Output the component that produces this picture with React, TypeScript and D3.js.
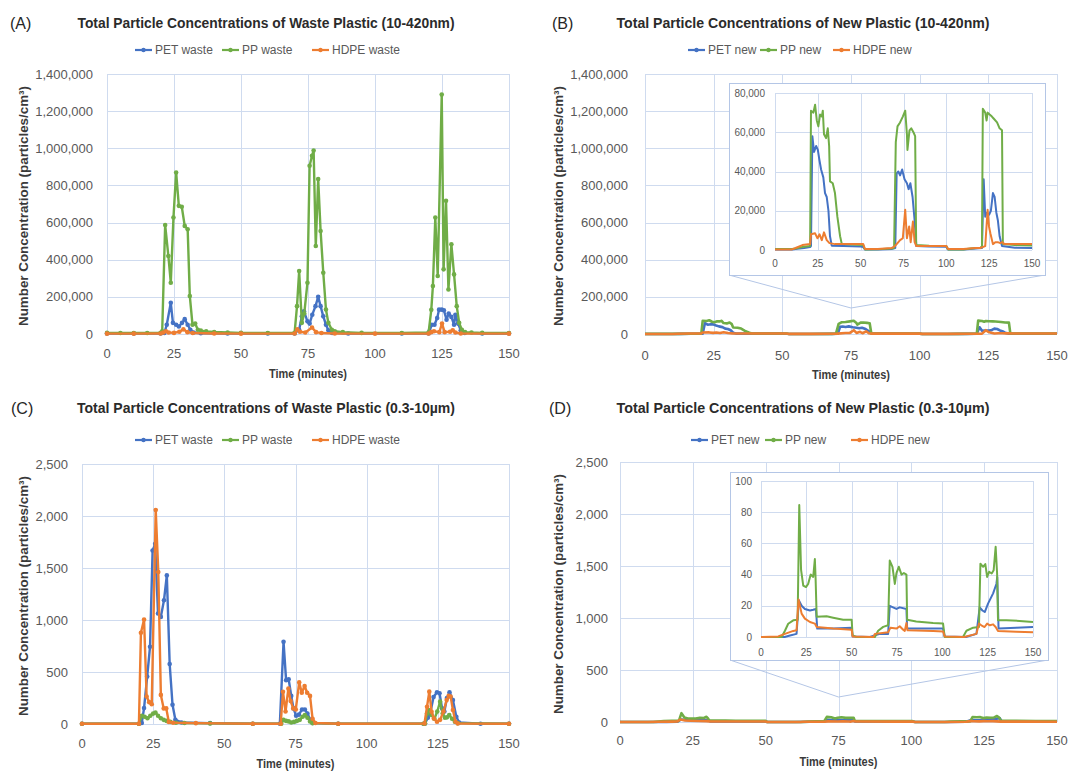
import { useEffect, useRef } from 'react';
import * as d3 from 'd3';

type Pt = [number, number];

const FONT = "'Liberation Sans', Arial, sans-serif";
const GRID = '#cfdbef';
const BOX = '#b4c6e6';
const TEXT = '#595959';
const colors = ['#4472C4', '#70AD47', '#ED7D31'];

const timeTicks = [0, 25, 50, 75, 100, 125, 150];
const nanoTicks = [0, 200000, 400000, 600000, 800000, 1000000, 1200000, 1400000];
const microTicks = [0, 500, 1000, 1500, 2000, 2500];
const nanoInsetTicks = [0, 20000, 40000, 60000, 80000];
const microInsetTicks = [0, 20, 40, 60, 80, 100];

const wasteNames = ['PET waste', 'PP waste', 'HDPE waste'];
const newNames = ['PET new', 'PP new', 'HDPE new'];

// (A) waste plastic, 10-420nm
const petWasteNano: Pt[] = [
  [0, 3000], [10, 3000], [20, 3000], [21.4, 5000], [22.3, 50000], [23.8, 168000], [24.6, 60000], [25.8, 50000],
  [26.8, 40000], [28, 60000], [29, 80000], [30.1, 50000], [31.1, 23000], [32.3, 8000], [35, 4000], [45, 3000],
  [60, 3000], [70, 3000], [71.7, 23000], [72.7, 95000], [73.5, 122000], [74.8, 68000], [75.6, 56000], [76.6, 104000],
  [77.8, 150000], [78.8, 200000], [79.7, 150000], [80.7, 95000], [81.7, 50000], [82.6, 20000], [84, 6000], [90, 3000],
  [110, 3000], [120, 3000], [120.3, 14000], [121.2, 50000], [122.2, 50000], [123.2, 86000], [123.9, 131000],
  [124.9, 131000], [125.7, 128000], [126.7, 77000], [127.5, 110000], [128.5, 92000], [129.5, 50000], [130, 104000],
  [131, 56000], [132, 20000], [133.5, 6000], [140, 3000], [150, 3000],
];
const ppWasteNano: Pt[] = [
  [0, 6000], [5, 5500], [10, 5000], [15, 5000], [20, 6000], [20.6, 15000], [21.7, 587000], [22.9, 420000],
  [23.8, 276000], [24.8, 627000], [25.8, 870000], [26.8, 690000], [27.9, 685000], [29, 582000], [30.1, 564000],
  [30.9, 204000], [31.9, 50000], [32.9, 56000], [33.9, 23000], [35, 18000], [37, 14000], [40, 11000], [45, 8000],
  [50, 6000], [60, 5000], [70, 6000], [70.9, 150000], [71.7, 339000], [72.7, 60000], [73.6, 110000], [74.8, 276000],
  [75.6, 906000], [76.5, 960000], [77.1, 988000], [77.9, 474000], [78.8, 834000], [79.7, 555000], [80.7, 330000],
  [81.7, 132000], [82.6, 60000], [83.9, 23000], [85, 15000], [88, 10000], [95, 6000], [110, 5000], [120, 8000],
  [121, 130000], [121.6, 258000], [122.5, 627000], [123.4, 312000], [124.9, 1289000], [125.6, 348000],
  [126.5, 717000], [127.4, 240000], [128.5, 483000], [129.5, 321000], [130.5, 150000], [131.4, 60000],
  [132.4, 23000], [133.6, 10000], [136, 8000], [140, 6000], [150, 5000],
];
const hdpeWasteNano: Pt[] = [
  [0, 2000], [10, 2000], [20, 2500], [21, 8000], [22, 15000], [23, 8000], [25, 6000], [27, 12000], [28.5, 25000],
  [30, 10000], [32, 5000], [40, 3000], [50, 2000], [70, 2500], [71, 25000], [72, 12000], [74, 8000], [76.5, 35000],
  [78, 10000], [80, 5000], [85, 3000], [100, 2000], [120, 2500], [121, 10000], [122, 15000], [124, 10000],
  [125, 56000], [126, 10000], [128, 12000], [129, 20000], [130, 8000], [132, 3000], [150, 2000],
];

// (B) new plastic, 10-420nm
const petNewNano: Pt[] = [
  [0, 300], [10, 300], [13, 600], [17, 1000], [20.5, 1500], [21, 2000], [21.8, 58000], [22.8, 50000], [24, 53000],
  [25, 51000], [25.9, 46000], [26.9, 41000], [28.2, 37000], [29.2, 29000], [30.2, 27000], [31.2, 20000],
  [32.1, 7000], [33.1, 2200], [40, 2000], [50, 1800], [51.5, 1500], [52.5, 300], [60, 300], [68, 500], [70.2, 1000],
  [71, 39000], [72, 40000], [73, 38000], [74.2, 41000], [75.6, 36000], [77, 34000], [78, 31000], [79, 34000],
  [80.3, 27000], [81.4, 16000], [82.5, 2000], [90, 1800], [100, 1600], [101, 300], [110, 300], [117, 800],
  [120.8, 1000], [121.8, 36000], [122.7, 17000], [123.7, 19000], [125, 18000], [126, 20000], [127.2, 29000],
  [128.2, 27000], [129.2, 19000], [130.1, 15000], [131.1, 7000], [132.5, 2000], [140, 1200], [150, 1000],
];
const ppNewNano: Pt[] = [
  [0, 500], [10, 500], [12, 800], [16, 1500], [20.5, 2000], [21, 71000], [22.4, 70000], [23.4, 74000],
  [24.4, 66000], [25.3, 63000], [26.3, 69000], [27.3, 68000], [27.9, 71000], [28.6, 59000], [29.8, 57000],
  [30.8, 62000], [31.6, 53000], [32.1, 35000], [33.7, 34000], [35, 29000], [36.4, 17000], [38, 7000], [39, 3000],
  [45, 2800], [51.5, 2500], [52.5, 300], [60, 400], [68, 800], [69.5, 1000], [70.5, 55000], [71.5, 63000],
  [73, 65000], [74.6, 68000], [76, 71000], [77, 59000], [77.3, 51000], [78.5, 61000], [79.5, 62000], [80.8, 60000],
  [81.8, 58000], [82.4, 2500], [90, 2200], [100, 2000], [101, 300], [110, 300], [114, 800], [120, 1200],
  [120.8, 2000], [121.3, 72000], [122.7, 70000], [123.5, 66000], [124.1, 70000], [125.3, 69000], [126.6, 68000],
  [127.6, 67000], [129.6, 65000], [131.1, 62000], [132.5, 61000], [133, 3000], [140, 2500], [150, 2300],
];
const hdpeNewNano: Pt[] = [
  [0, 300], [10, 300], [12, 1000], [16, 2500], [20.5, 3000], [21, 8000], [23.4, 8500], [24.8, 6000], [26, 8000],
  [27.3, 5000], [28.6, 9000], [30.2, 5000], [31.8, 3500], [35, 3000], [45, 3000], [51.5, 3000], [52.5, 500],
  [60, 500], [68, 1000], [70, 2000], [73, 5000], [74.6, 6000], [76, 20500], [77, 6000], [78.3, 12000], [79.2, 4000],
  [80.5, 14500], [81.5, 4000], [82.5, 2000], [90, 2000], [100, 2000], [101, 500], [110, 500], [117, 1000],
  [119.8, 1000], [122.7, 2000], [124.1, 20500], [124.9, 12000], [125.7, 8500], [127.2, 3000], [128.6, 4000],
  [130, 4000], [131.5, 3500], [132.5, 4000], [134, 3000], [150, 3000],
];

// (C) waste plastic, 0.3-10um
const petWasteMicro: Pt[] = [
  [0, 2], [20, 2], [21, 10], [21.8, 153], [22.9, 456], [23.9, 743], [24.8, 1668], [25.7, 1732], [26.7, 1062],
  [27.7, 1030], [28.8, 1190], [29.8, 1429], [30.8, 577], [31.8, 185], [32.8, 41], [35, 15], [45, 8], [60, 3],
  [69.5, 2], [70.8, 790], [71.7, 420], [72.6, 430], [73.5, 270], [74.3, 150], [75.2, 80], [76.2, 90], [77.3, 140],
  [78.3, 140], [79.2, 100], [80.2, 40], [81, 10], [90, 3], [120, 2], [120.5, 5], [121.5, 60], [122.3, 100],
  [123.5, 260], [124.7, 305], [125.6, 295], [126.5, 150], [127.3, 120], [128.2, 250], [129.1, 305], [130.3, 230],
  [131.5, 70], [132.5, 15], [140, 3], [150, 2],
];
const ppWasteMicro: Pt[] = [
  [0, 2], [20, 2], [21, 80], [22, 70], [23, 55], [24, 80], [25, 100], [25.8, 110], [26.7, 80], [27.7, 55],
  [28.7, 40], [29.7, 30], [31, 20], [33, 12], [36, 10], [45, 6], [60, 3], [70, 3], [70.8, 40], [71.7, 30],
  [72.6, 25], [73.5, 15], [74.5, 20], [75.5, 30], [76.5, 40], [77.5, 70], [78.3, 85], [79.2, 60], [80.1, 25],
  [81, 8], [90, 3], [120, 3], [120.5, 5], [121.2, 100], [121.8, 135], [122.8, 86], [123.8, 50], [124.8, 120],
  [125.8, 215], [126.7, 100], [127.5, 60], [128.2, 64], [129, 86], [130, 50], [131, 22], [132, 8], [150, 3],
];
const hdpeWasteMicro: Pt[] = [
  [0, 2], [20, 2], [20.7, 877], [21.8, 1005], [22.7, 265], [23.6, 210], [24.5, 190], [25.9, 2058], [26.8, 1461],
  [27.7, 280], [28.7, 150], [29.6, 150], [30.5, 20], [32, 12], [40, 8], [60, 3], [69.8, 3], [70.6, 310],
  [71.5, 120], [72.5, 340], [73.3, 220], [74.2, 150], [75.1, 140], [76.3, 400], [77.2, 300], [78.2, 365],
  [79.1, 300], [80.1, 270], [81, 50], [82, 10], [90, 3], [120.3, 5], [121.2, 166], [122, 311], [122.8, 118],
  [123.6, 54], [124.7, 22], [125.8, 40], [127, 120], [128.1, 230], [128.8, 270], [129.5, 263], [130.3, 135],
  [131.2, 22], [132, 5], [150, 2],
];

// (D) new plastic, 0.3-10um
const petNewMicro: Pt[] = [
  [0, 0], [13, 0], [16, 1], [19.6, 2], [20.9, 23.5], [22.4, 20], [24.2, 18], [27, 17], [28.8, 17.5], [30.3, 18],
  [31, 5.4], [39.8, 5.4], [50, 6], [50.5, 0.4], [60, 0], [65.5, 2], [70.1, 2], [71, 20], [72.8, 19], [74.7, 18],
  [76.5, 19], [80.2, 18], [80.6, 5.4], [90, 5.4], [100.4, 5.4], [101.3, 0.4], [113, 0], [118.8, 2], [120.6, 19],
  [122.1, 17], [123.4, 16], [125.2, 21.4], [128, 28], [129.8, 34], [130.3, 38.5], [131, 5.4], [140.8, 6], [150, 6.4],
];
const ppNewMicro: Pt[] = [
  [0, 0], [11.4, 0], [13.2, 4], [15, 8.5], [17.8, 10.7], [20.2, 11], [21.1, 84.6], [22.1, 43], [23.3, 33],
  [24.8, 32], [26, 34], [27.4, 40], [28.8, 38.5], [29.7, 50], [30.1, 38], [30.7, 13], [36.2, 13.3], [39.8, 12.4],
  [45.3, 11], [50, 11], [50.5, 1], [52.7, 0], [62.8, 0], [64.6, 4], [67.4, 6.5], [70.1, 7.5], [71, 49], [72.5, 45],
  [73.8, 34], [74.7, 41], [76, 45], [77.5, 40], [78.8, 41], [80.2, 40], [80.6, 11], [85.6, 10], [94.9, 9],
  [100.4, 8.6], [101.3, 0], [111.4, 0], [113.3, 4], [117, 6], [120.2, 6.4], [121, 47], [122.5, 45], [123.7, 46.7],
  [124.7, 38.5], [125.8, 41.8], [127.2, 40.7], [128.3, 42.8], [129.4, 57.8], [130.2, 40.7], [130.7, 10.7],
  [135.3, 10.7], [142.6, 10.3], [150, 9.6],
];
const hdpeNewMicro: Pt[] = [
  [0, 0], [9.5, 0.4], [13.2, 2], [17.8, 3.9], [19.6, 4.3], [20.7, 24], [22.4, 15], [24.2, 11.8], [27, 9.6],
  [29.7, 8.6], [30.7, 6.4], [39.8, 5.4], [50, 4.7], [50.5, 0.4], [62, 0], [62.8, 2], [70.1, 3], [71.4, 6],
  [74.7, 5.4], [76.5, 6.9], [78.4, 4.7], [79.3, 3.9], [80.2, 9], [80.8, 4.3], [95, 3.9], [100.4, 3.6], [101.3, 0.4],
  [112, 0], [118.8, 2], [120.2, 8.6], [121.5, 7.5], [123.3, 6.4], [124.7, 8.6], [126.2, 7.5], [128, 8.1],
  [129.4, 6.4], [130.7, 3.9], [140.8, 3.4], [150, 3],
];

interface Inset {
  box: [number, number, number, number];
  plot: [number, number, number, number];
  ticks: number[];
  labelGap: number;
  tickY: number;
  apexY: number;
}

interface Panel {
  tag: string; tagX: number; tagY: number;
  title: string; titleX: number; titleLen: number;
  names: string[]; legendX: number[]; legendY: number;
  left: number; right: number; top: number; bottom: number;
  ticks: number[]; labelGap: number; tickY: number; axisTitleY: number; yLabelX: number;
  series: Pt[][]; markers: boolean; inset?: Inset;
}

const panels: Panel[] = [
  {
    tag: '(A)', tagX: 10, tagY: 23, title: 'Total Particle Concentrations of Waste Plastic (10-420nm)', titleX: 266, titleLen: 377,
    names: wasteNames, legendX: [135, 222, 312], legendY: 50,
    left: 107, right: 509, top: 74, bottom: 334, ticks: nanoTicks, labelGap: 14, tickY: 353, axisTitleY: 373, yLabelX: 24,
    series: [petWasteNano, ppWasteNano, hdpeWasteNano], markers: true,
  },
  {
    tag: '(B)', tagX: 552, tagY: 23, title: 'Total Particle Concentrations of New Plastic (10-420nm)', titleX: 803, titleLen: 373,
    names: newNames, legendX: [688, 760, 833], legendY: 50,
    left: 645, right: 1057, top: 74, bottom: 334, ticks: nanoTicks, labelGap: 17, tickY: 355, axisTitleY: 374, yLabelX: 559,
    series: [petNewNano, ppNewNano, hdpeNewNano], markers: false,
    inset: { box: [729, 83, 1045, 275], plot: [775, 93, 1032, 250], ticks: nanoInsetTicks, labelGap: 10, tickY: 263, apexY: 308 },
  },
  {
    tag: '(C)', tagX: 11, tagY: 408, title: 'Total Particle Concentrations of Waste Plastic (0.3-10µm)', titleX: 266, titleLen: 378,
    names: wasteNames, legendX: [135, 222, 312], legendY: 440,
    left: 82, right: 509, top: 464, bottom: 724, ticks: microTicks, labelGap: 14, tickY: 743, axisTitleY: 763, yLabelX: 24,
    series: [petWasteMicro, ppWasteMicro, hdpeWasteMicro], markers: true,
  },
  {
    tag: '(D)', tagX: 549, tagY: 408, title: 'Total Particle Concentrations of New Plastic (0.3-10µm)', titleX: 803, titleLen: 373,
    names: newNames, legendX: [691, 765, 851], legendY: 440,
    left: 620, right: 1057, top: 462, bottom: 722, ticks: microTicks, labelGap: 12, tickY: 740, axisTitleY: 761, yLabelX: 559,
    series: [petNewMicro, ppNewMicro, hdpeNewMicro], markers: false,
    inset: { box: [730, 472, 1048, 660], plot: [761, 481, 1033, 637], ticks: microInsetTicks, labelGap: 9, tickY: 652, apexY: 697 },
  },
];

const crisp = (v: number) => Math.round(v) + 0.5;

function grid(g: any, x: any, y: any, yTicks: number[], l: number, r: number, t: number, b: number) {
  g.append('g').selectAll('line').data(yTicks).join('line')
    .attr('x1', l).attr('x2', r)
    .attr('y1', (d: number) => crisp(y(d))).attr('y2', (d: number) => crisp(y(d)))
    .attr('stroke', GRID).attr('stroke-width', 1);
  g.append('g').selectAll('line').data(timeTicks).join('line')
    .attr('x1', (d: number) => crisp(x(d))).attr('x2', (d: number) => crisp(x(d)))
    .attr('y1', t).attr('y2', b)
    .attr('stroke', GRID).attr('stroke-width', 1);
}

function lines(g: any, x: any, y: any, series: Pt[][], width: number, markers: boolean) {
  const line = d3.line<Pt>().x(d => x(d[0])).y(d => y(d[1]));
  series.forEach((pts, i) => {
    g.append('path').datum(pts)
      .attr('fill', 'none').attr('stroke', colors[i]).attr('stroke-width', width)
      .attr('stroke-linejoin', 'round').attr('d', line);
    if (markers) {
      g.append('g').selectAll('circle').data(pts).join('circle')
        .attr('cx', (d: Pt) => x(d[0])).attr('cy', (d: Pt) => y(d[1])).attr('r', 2.3)
        .attr('fill', colors[i]);
    }
  });
}

const App = () => {
  const ref = useRef<SVGSVGElement>(null);

  useEffect(() => {
    const svg = d3.select(ref.current);
    svg.selectAll('*').remove();
    const fmt = d3.format(',');

    panels.forEach(p => {
      const g = svg.append('g').attr('font-family', FONT);
      const x = d3.scaleLinear().domain([0, 150]).range([p.left, p.right]);
      const y = d3.scaleLinear().domain([0, d3.max(p.ticks) as number]).range([p.bottom, p.top]);

      // headings
      g.append('text').attr('x', p.tagX).attr('y', p.tagY).attr('dominant-baseline', 'central')
        .attr('font-size', 16).attr('fill', '#262626').text(p.tag);
      g.append('text').attr('x', p.titleX).attr('y', p.tagY).attr('dominant-baseline', 'central')
        .attr('text-anchor', 'middle').attr('font-size', 14).attr('font-weight', 'bold').attr('fill', '#2b2b2b')
        .attr('textLength', p.titleLen).attr('lengthAdjust', 'spacingAndGlyphs').text(p.title);

      // legend
      p.names.forEach((name, i) => {
        const lx = p.legendX[i];
        g.append('line').attr('x1', lx).attr('x2', lx + 17).attr('y1', p.legendY).attr('y2', p.legendY)
          .attr('stroke', colors[i]).attr('stroke-width', 2.2);
        g.append('circle').attr('cx', lx + 8.5).attr('cy', p.legendY).attr('r', 2.2).attr('fill', colors[i]);
        g.append('text').attr('x', lx + 20).attr('y', p.legendY).attr('dominant-baseline', 'central')
          .attr('font-size', 12).attr('fill', TEXT).text(name);
      });

      grid(g, x, y, p.ticks, p.left, p.right, p.top, p.bottom);

      // tick labels
      g.append('g').selectAll('text').data(p.ticks).join('text')
        .attr('x', p.left - p.labelGap).attr('y', (d: number) => y(d)).attr('dominant-baseline', 'central')
        .attr('text-anchor', 'end').attr('font-size', 13).attr('fill', TEXT).text((d: number) => fmt(d));
      g.append('g').selectAll('text').data(timeTicks).join('text')
        .attr('x', (d: number) => x(d)).attr('y', p.tickY).attr('dominant-baseline', 'central')
        .attr('text-anchor', 'middle').attr('font-size', 13).attr('fill', TEXT).text((d: number) => d);

      // axis titles
      g.append('text').attr('x', (p.left + p.right) / 2).attr('y', p.axisTitleY).attr('dominant-baseline', 'central')
        .attr('text-anchor', 'middle').attr('font-size', 13).attr('font-weight', 'bold').attr('fill', '#3a3a3a')
        .attr('textLength', 78).attr('lengthAdjust', 'spacingAndGlyphs').text('Time (minutes)');
      const cy = (p.top + p.bottom) / 2 + 2;
      g.append('text').attr('transform', `translate(${p.yLabelX},${cy}) rotate(-90)`)
        .attr('dominant-baseline', 'central').attr('text-anchor', 'middle')
        .attr('font-size', 12.5).attr('font-weight', 'bold').attr('fill', '#3a3a3a')
        .attr('textLength', 240).attr('lengthAdjust', 'spacingAndGlyphs')
        .text('Number Concentration (particles/cm³)');

      lines(g, x, y, p.series, p.markers ? 2.4 : 2.6, p.markers);

      if (p.inset) {
        const ins = p.inset;
        const [bl, bt, br, bb] = ins.box;
        const apexX = x(75);
        g.append('path')
          .attr('d', `M${bl},${bb}L${apexX},${ins.apexY}L${br},${bb}`)
          .attr('fill', 'none').attr('stroke', BOX).attr('stroke-width', 1);
        g.append('rect').attr('x', bl + 0.5).attr('y', bt + 0.5).attr('width', br - bl).attr('height', bb - bt)
          .attr('fill', '#fff').attr('stroke', BOX).attr('stroke-width', 1);
        const [pl, pt, pr, pb] = ins.plot;
        const ix = d3.scaleLinear().domain([0, 150]).range([pl, pr]);
        const iy = d3.scaleLinear().domain([0, d3.max(ins.ticks) as number]).range([pb, pt]);
        grid(g, ix, iy, ins.ticks, pl, pr, pt, pb);
        g.append('g').selectAll('text').data(ins.ticks).join('text')
          .attr('x', pl - ins.labelGap).attr('y', (d: number) => iy(d)).attr('dominant-baseline', 'central')
          .attr('text-anchor', 'end').attr('font-size', 10).attr('fill', TEXT).text((d: number) => fmt(d));
        g.append('g').selectAll('text').data(timeTicks).join('text')
          .attr('x', (d: number) => ix(d)).attr('y', ins.tickY).attr('dominant-baseline', 'central')
          .attr('text-anchor', 'middle').attr('font-size', 10).attr('fill', TEXT).text((d: number) => d);
        lines(g, ix, iy, p.series, 2, false);
      }
    });
  }, []);

  return (
    <svg ref={ref} width={1070} height={771}
      style={{ position: 'absolute', left: 0, top: 0, background: '#fff' }} />
  );
};

export default App;
